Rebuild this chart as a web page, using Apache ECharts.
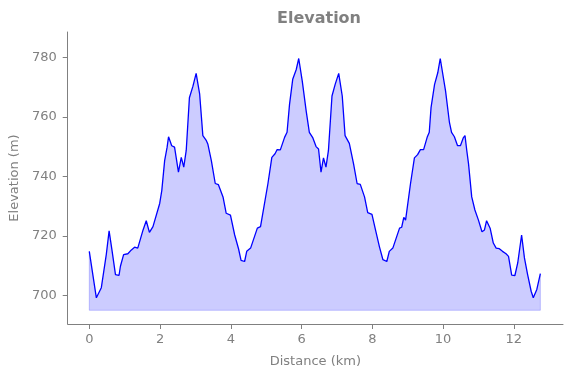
<!DOCTYPE html>
<html>
<head>
<meta charset="utf-8">
<script src="https://cdn.jsdelivr.net/npm/echarts@6/dist/echarts.min.js"></script>
<style>
  html, body { margin: 0; padding: 0; background: #fff; }
  #chart { width: 571px; height: 378px; }
</style>
</head>
<body>
<div id="chart"></div>
<script>
// distance along the route (km)
var distances = [
    0.00, 0.20, 0.23, 0.34, 0.48, 0.56, 0.64, 0.74, 0.84, 0.88, 0.97,
    1.09, 1.19, 1.28, 1.37, 1.52, 1.61, 1.70, 1.80, 1.99,
    2.05, 2.13, 2.20, 2.24, 2.33, 2.41, 2.52, 2.60, 2.67, 2.74, 2.83, 2.93,
    3.02, 3.12, 3.21, 3.31, 3.35, 3.45, 3.56, 3.65, 3.78, 3.87, 3.99,
    4.11, 4.22, 4.29, 4.39, 4.45, 4.56, 4.75, 4.84, 4.88, 4.93,
    5.05, 5.16, 5.25, 5.31, 5.40, 5.52, 5.59, 5.66, 5.75, 5.85, 5.92,
    6.02, 6.13, 6.22, 6.32, 6.41, 6.48, 6.55, 6.62, 6.69, 6.76, 6.86, 6.95,
    7.05, 7.15, 7.23, 7.35, 7.47, 7.57, 7.66, 7.78, 7.87, 7.99,
    8.09, 8.20, 8.30, 8.41, 8.48, 8.58, 8.77, 8.83, 8.89, 8.94,
    9.08, 9.19, 9.28, 9.36, 9.45, 9.55, 9.61, 9.66, 9.76, 9.85, 9.92,
    10.07, 10.18, 10.24, 10.32, 10.41, 10.49, 10.57, 10.62, 10.67, 10.72, 10.81, 10.90,
    11.00, 11.10, 11.17, 11.23, 11.33, 11.42, 11.50, 11.59, 11.68, 11.78, 11.85, 11.94,
    12.03, 12.11, 12.22, 12.30, 12.39, 12.49, 12.55, 12.65, 12.75
];

// elevation (m)
var elevations = [
    714.8, 699.2, 699.0, 702.6, 713.7, 721.7, 715.3, 707.0, 706.7, 709.8, 713.7,
    714.0, 715.3, 716.2, 715.9, 722.0, 725.1, 721.2, 723.1, 730.9,
    735.3, 745.3, 749.8, 753.3, 750.3, 749.8, 741.4, 746.4, 743.1, 748.7, 766.4, 770.3,
    774.6, 767.6, 753.7, 752.0, 750.9, 745.3, 737.6, 737.2, 733.1, 727.6, 727.0,
    720.3, 715.6, 711.8, 711.4, 714.8, 715.9, 722.6, 723.1, 725.9, 725.3,
    737.6, 746.4, 747.6, 749.0, 748.9, 753.1, 754.8, 764.2, 772.6, 775.9, 779.6,
    772.0, 762.0, 754.8, 752.9, 750.0, 749.2, 741.4, 746.2, 743.1, 748.7, 767.0, 770.9,
    774.6, 767.0, 753.7, 751.1, 744.2, 737.6, 737.3, 733.1, 727.8, 727.2,
    722.0, 716.4, 712.0, 711.4, 714.8, 715.9, 722.6, 722.9, 726.2, 725.3,
    737.6, 746.2, 747.3, 749.0, 749.0, 753.1, 754.8, 763.1, 770.9, 774.8, 779.6,
    768.7, 758.1, 754.8, 753.3, 750.3, 750.3, 752.9, 753.7, 748.7, 744.2, 733.1, 728.7,
    725.3, 721.4, 722.0, 725.1, 722.6, 717.6, 715.9, 715.7, 714.8, 714.0, 713.1, 706.8,
    706.7, 710.9, 720.3, 712.6, 707.0, 701.4, 699.2, 702.0, 707.3
];

var fillBase = 695;
var xTicks = [0, 2, 4, 6, 8, 10, 12];
var yTicks = [700, 720, 740, 760, 780];

var profile = [];
for (var i = 0; i < distances.length; i++) {
    profile.push([distances[i], elevations[i]]);
}
var last = distances.length - 1;
// outline of the filled polygon (sides and bottom)
var edge = [
    [distances[0], elevations[0]],
    [distances[0], fillBase],
    [distances[last], fillBase],
    [distances[last], elevations[last]]
];

var grey = '#808080';
var font = 'DejaVu Sans';

var chart = echarts.init(document.getElementById('chart'), null, { renderer: 'canvas' });
chart.setOption({
    animation: false,
    backgroundColor: '#ffffff',
    title: {
        text: 'Elevation',
        left: 314,
        top: 6,
        textAlign: 'center',
        textStyle: { color: grey, fontFamily: font, fontWeight: 'bold', fontSize: 16 }
    },
    grid: { left: 67, right: 8, top: 32, bottom: 54 },
    xAxis: {
        type: 'value',
        min: -0.61,
        max: 13.39,
        name: 'Distance (km)',
        nameLocation: 'middle',
        nameGap: 31,
        nameTextStyle: { color: grey, fontFamily: font, fontSize: 13 },
        axisLine: { onZero: false, lineStyle: { color: grey, width: 1 } },
        axisTick: { show: true, length: 5, customValues: xTicks, lineStyle: { color: grey } },
        axisLabel: { color: grey, fontFamily: font, fontSize: 13, margin: 9, customValues: xTicks },
        splitLine: { show: false }
    },
    yAxis: {
        type: 'value',
        min: 690.4,
        max: 788.5,
        name: 'Elevation (m)',
        nameLocation: 'middle',
        nameGap: 38,
        nameTextStyle: { color: grey, fontFamily: font, fontSize: 13 },
        axisLine: { show: true, onZero: false, lineStyle: { color: grey, width: 1 } },
        axisTick: { show: true, length: 5, customValues: yTicks, lineStyle: { color: grey } },
        axisLabel: { color: grey, fontFamily: font, fontSize: 13, margin: 11, customValues: yTicks },
        splitLine: { show: false }
    },
    series: [
        {
            type: 'line',
            data: edge,
            symbol: 'none',
            silent: true,
            lineStyle: { color: 'rgba(0,0,255,0.2)', width: 1 },
            z: 1
        },
        {
            type: 'line',
            data: profile,
            symbol: 'none',
            smooth: false,
            lineStyle: { color: '#0000ff', width: 1.3 },
            areaStyle: { color: 'rgba(0,0,255,0.2)', opacity: 1, origin: fillBase },
            z: 2
        }
    ]
});
</script>
</body>
</html>
